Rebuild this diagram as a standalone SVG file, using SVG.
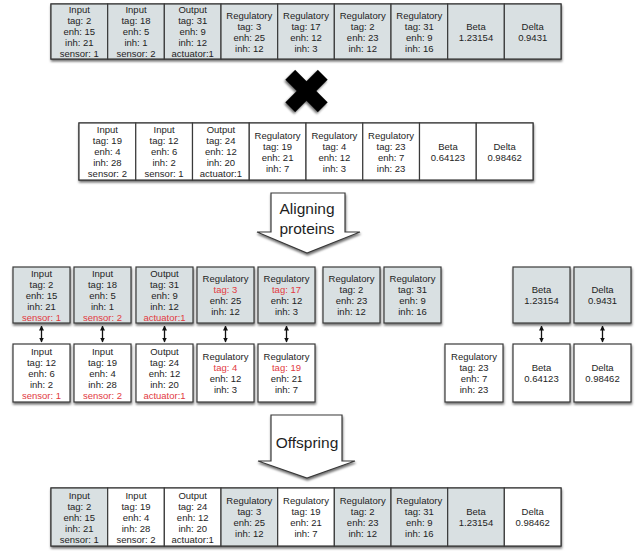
<svg xmlns="http://www.w3.org/2000/svg" width="640" height="552" viewBox="0 0 640 552">
<defs>
<filter id="sh" x="-10%" y="-10%" width="120%" height="140%">
<feDropShadow dx="0.5" dy="2" stdDeviation="1.2" flood-color="#000" flood-opacity="0.55"/>
</filter>
<marker id="ah" viewBox="0 0 10 10" refX="9" refY="5" markerWidth="5" markerHeight="5" orient="auto-start-reverse" markerUnits="userSpaceOnUse">
<path d="M0,0 L10,5 L0,10 z" fill="#111"/>
</marker>
</defs>
<style>
.g{fill:#d9e0e2;stroke:#3a3a3a;stroke-width:1.2}
.w{fill:#ffffff;stroke:#3a3a3a;stroke-width:1.2}
.bg{fill:#ffffff;stroke:#3a3a3a;stroke-width:1.2;filter:url(#sh)}
text{font-family:"Liberation Sans",Arial,Helvetica,sans-serif;font-size:9.5px;fill:#1e1e1e;text-anchor:middle;dominant-baseline:central}
.r{fill:#e23a3f}
.big{font-size:15.5px}
.conn line{stroke:#111;stroke-width:1.3;marker-start:url(#ah);marker-end:url(#ah)}
</style>
<rect width="640" height="552" fill="#ffffff"/>

<!-- Parent 1 -->
<g id="parent1">
<rect class="bg" x="51" y="4" width="510" height="55"/>
<g id="p1c1"><rect class="g" x="51" y="4" width="56.67" height="55"/><text x="79.3" y="9.5">Input</text><text x="79.3" y="20.5">tag: 2</text><text x="79.3" y="31.5">enh: 15</text><text x="79.3" y="42.5">inh: 21</text><text x="79.3" y="53.5">sensor: 1</text></g>
<g id="p1c2"><rect class="g" x="107.67" y="4" width="56.67" height="55"/><text x="136" y="9.5">Input</text><text x="136" y="20.5">tag: 18</text><text x="136" y="31.5">enh: 5</text><text x="136" y="42.5">inh: 1</text><text x="136" y="53.5">sensor: 2</text></g>
<g id="p1c3"><rect class="g" x="164.33" y="4" width="56.67" height="55"/><text x="192.7" y="9.5">Output</text><text x="192.7" y="20.5">tag: 31</text><text x="192.7" y="31.5">enh: 9</text><text x="192.7" y="42.5">inh: 12</text><text x="192.7" y="53.5">actuator:1</text></g>
<g id="p1c4"><rect class="g" x="221" y="4" width="56.67" height="55"/><text x="249.3" y="15">Regulatory</text><text x="249.3" y="26">tag: 3</text><text x="249.3" y="37">enh: 25</text><text x="249.3" y="48">inh: 12</text></g>
<g id="p1c5"><rect class="g" x="277.67" y="4" width="56.67" height="55"/><text x="306" y="15">Regulatory</text><text x="306" y="26">tag: 17</text><text x="306" y="37">enh: 12</text><text x="306" y="48">inh: 3</text></g>
<g id="p1c6"><rect class="g" x="334.33" y="4" width="56.67" height="55"/><text x="362.7" y="15">Regulatory</text><text x="362.7" y="26">tag: 2</text><text x="362.7" y="37">enh: 23</text><text x="362.7" y="48">inh: 12</text></g>
<g id="p1c7"><rect class="g" x="391" y="4" width="56.67" height="55"/><text x="419.3" y="15">Regulatory</text><text x="419.3" y="26">tag: 31</text><text x="419.3" y="37">enh: 9</text><text x="419.3" y="48">inh: 16</text></g>
<g id="p1c8"><rect class="g" x="447.67" y="4" width="56.67" height="55"/><text x="476" y="26">Beta</text><text x="476" y="37">1.23154</text></g>
<g id="p1c9"><rect class="g" x="504.33" y="4" width="56.67" height="55"/><text x="532.7" y="26">Delta</text><text x="532.7" y="37">0.9431</text></g>
</g>

<!-- Cross -->
<g id="cross">
<polygon transform="translate(306.5,91) rotate(45)" points="-7,-23 7,-23 7,-7 23,-7 23,7 7,7 7,23 -7,23 -7,7 -23,7 -23,-7 -7,-7" fill="#000" style="filter:url(#sh)"/>
</g>

<!-- Parent 2 -->
<g id="parent2">
<rect class="bg" x="79" y="123" width="454" height="57"/>
<g id="p2c1"><rect class="w" x="79" y="123" width="56.75" height="57"/><text x="107.4" y="129.5">Input</text><text x="107.4" y="140.5">tag: 19</text><text x="107.4" y="151.5">enh: 4</text><text x="107.4" y="162.5">inh: 28</text><text x="107.4" y="173.5">sensor: 2</text></g>
<g id="p2c2"><rect class="w" x="135.75" y="123" width="56.75" height="57"/><text x="164.1" y="129.5">Input</text><text x="164.1" y="140.5">tag: 12</text><text x="164.1" y="151.5">enh: 6</text><text x="164.1" y="162.5">inh: 2</text><text x="164.1" y="173.5">sensor: 1</text></g>
<g id="p2c3"><rect class="w" x="192.5" y="123" width="56.75" height="57"/><text x="220.9" y="129.5">Output</text><text x="220.9" y="140.5">tag: 24</text><text x="220.9" y="151.5">enh: 12</text><text x="220.9" y="162.5">inh: 20</text><text x="220.9" y="173.5">actuator:1</text></g>
<g id="p2c4"><rect class="w" x="249.25" y="123" width="56.75" height="57"/><text x="277.6" y="135">Regulatory</text><text x="277.6" y="146">tag: 19</text><text x="277.6" y="157">enh: 21</text><text x="277.6" y="168">inh: 7</text></g>
<g id="p2c5"><rect class="w" x="306" y="123" width="56.75" height="57"/><text x="334.4" y="135">Regulatory</text><text x="334.4" y="146">tag: 4</text><text x="334.4" y="157">enh: 12</text><text x="334.4" y="168">inh: 3</text></g>
<g id="p2c6"><rect class="w" x="362.75" y="123" width="56.75" height="57"/><text x="391.1" y="135">Regulatory</text><text x="391.1" y="146">tag: 23</text><text x="391.1" y="157">enh: 7</text><text x="391.1" y="168">inh: 23</text></g>
<g id="p2c7"><rect class="w" x="419.5" y="123" width="56.75" height="57"/><text x="447.9" y="146">Beta</text><text x="447.9" y="157">0.64123</text></g>
<g id="p2c8"><rect class="w" x="476.25" y="123" width="56.75" height="57"/><text x="504.6" y="146">Delta</text><text x="504.6" y="157">0.98462</text></g>
</g>

<!-- Aligning proteins arrow -->
<g id="align">
<polygon points="271,193 345,193 345,232 360,232 307,253 257,232 271,232" fill="#fff" stroke="#3a3a3a" stroke-width="1.2" style="filter:url(#sh)"/>
<text class="big" x="307" y="208">Aligning</text>
<text class="big" x="307" y="228">proteins</text>
</g>

<!-- Aligned parent 1 -->
<g id="a1">
<g id="a1c1"><rect class="g" x="13" y="267" width="57" height="56" style="filter:url(#sh)"/><text x="41.5" y="273">Input</text><text x="41.5" y="284">tag: 2</text><text x="41.5" y="295">enh: 15</text><text x="41.5" y="306">inh: 21</text><text class="r" x="41.5" y="317">sensor: 1</text></g>
<g id="a1c2"><rect class="g" x="74" y="267" width="57" height="56" style="filter:url(#sh)"/><text x="102.5" y="273">Input</text><text x="102.5" y="284">tag: 18</text><text x="102.5" y="295">enh: 5</text><text x="102.5" y="306">inh: 1</text><text class="r" x="102.5" y="317">sensor: 2</text></g>
<g id="a1c3"><rect class="g" x="136" y="267" width="57" height="56" style="filter:url(#sh)"/><text x="164.5" y="273">Output</text><text x="164.5" y="284">tag: 31</text><text x="164.5" y="295">enh: 9</text><text x="164.5" y="306">inh: 12</text><text class="r" x="164.5" y="317">actuator:1</text></g>
<g id="a1c4"><rect class="g" x="197" y="267" width="57" height="56" style="filter:url(#sh)"/><text x="225.5" y="278.5">Regulatory</text><text class="r" x="225.5" y="289.5">tag: 3</text><text x="225.5" y="300.5">enh: 25</text><text x="225.5" y="311.5">inh: 12</text></g>
<g id="a1c5"><rect class="g" x="258" y="267" width="57" height="56" style="filter:url(#sh)"/><text x="286.5" y="278.5">Regulatory</text><text class="r" x="286.5" y="289.5">tag: 17</text><text x="286.5" y="300.5">enh: 12</text><text x="286.5" y="311.5">inh: 3</text></g>
<g id="a1c6"><rect class="g" x="323" y="267" width="57" height="56" style="filter:url(#sh)"/><text x="351.5" y="278.5">Regulatory</text><text x="351.5" y="289.5">tag: 2</text><text x="351.5" y="300.5">enh: 23</text><text x="351.5" y="311.5">inh: 12</text></g>
<g id="a1c7"><rect class="g" x="384" y="267" width="57" height="56" style="filter:url(#sh)"/><text x="412.5" y="278.5">Regulatory</text><text x="412.5" y="289.5">tag: 31</text><text x="412.5" y="300.5">enh: 9</text><text x="412.5" y="311.5">inh: 16</text></g>
<g id="a1c8"><rect class="g" x="513" y="267" width="57" height="56" style="filter:url(#sh)"/><text x="541.5" y="289.5">Beta</text><text x="541.5" y="300.5">1.23154</text></g>
<g id="a1c9"><rect class="g" x="574" y="267" width="57" height="56" style="filter:url(#sh)"/><text x="602.5" y="289.5">Delta</text><text x="602.5" y="300.5">0.9431</text></g>
</g>

<!-- Aligned parent 2 -->
<g id="a2">
<g id="a2c1"><rect class="w" x="13" y="344" width="57" height="58" style="filter:url(#sh)"/><text x="41.5" y="351">Input</text><text x="41.5" y="362">tag: 12</text><text x="41.5" y="373">enh: 6</text><text x="41.5" y="384">inh: 2</text><text class="r" x="41.5" y="395">sensor: 1</text></g>
<g id="a2c2"><rect class="w" x="74" y="344" width="57" height="58" style="filter:url(#sh)"/><text x="102.5" y="351">Input</text><text x="102.5" y="362">tag: 19</text><text x="102.5" y="373">enh: 4</text><text x="102.5" y="384">inh: 28</text><text class="r" x="102.5" y="395">sensor: 2</text></g>
<g id="a2c3"><rect class="w" x="136" y="344" width="57" height="58" style="filter:url(#sh)"/><text x="164.5" y="351">Output</text><text x="164.5" y="362">tag: 24</text><text x="164.5" y="373">enh: 12</text><text x="164.5" y="384">inh: 20</text><text class="r" x="164.5" y="395">actuator:1</text></g>
<g id="a2c4"><rect class="w" x="197" y="344" width="57" height="58" style="filter:url(#sh)"/><text x="225.5" y="356.5">Regulatory</text><text class="r" x="225.5" y="367.5">tag: 4</text><text x="225.5" y="378.5">enh: 12</text><text x="225.5" y="389.5">inh: 3</text></g>
<g id="a2c5"><rect class="w" x="258" y="344" width="57" height="58" style="filter:url(#sh)"/><text x="286.5" y="356.5">Regulatory</text><text class="r" x="286.5" y="367.5">tag: 19</text><text x="286.5" y="378.5">enh: 21</text><text x="286.5" y="389.5">inh: 7</text></g>
<g id="a2c6"><rect class="w" x="445" y="344" width="58" height="58" style="filter:url(#sh)"/><text x="474" y="356.5">Regulatory</text><text x="474" y="367.5">tag: 23</text><text x="474" y="378.5">enh: 7</text><text x="474" y="389.5">inh: 23</text></g>
<g id="a2c7"><rect class="w" x="513" y="344" width="57" height="58" style="filter:url(#sh)"/><text x="541.5" y="367.5">Beta</text><text x="541.5" y="378.5">0.64123</text></g>
<g id="a2c8"><rect class="w" x="574" y="344" width="57" height="58" style="filter:url(#sh)"/><text x="602.5" y="367.5">Delta</text><text x="602.5" y="378.5">0.98462</text></g>
</g>

<!-- Connectors -->
<g id="connectors" class="conn">
<line x1="41.5" y1="326" x2="41.5" y2="342"/>
<line x1="102.5" y1="326" x2="102.5" y2="342"/>
<line x1="164.5" y1="326" x2="164.5" y2="342"/>
<line x1="225.5" y1="326" x2="225.5" y2="342"/>
<line x1="286.5" y1="326" x2="286.5" y2="342"/>
<line x1="541.5" y1="326" x2="541.5" y2="342"/>
<line x1="602.5" y1="326" x2="602.5" y2="342"/>
</g>

<!-- Offspring arrow -->
<g id="offspring-arrow">
<polygon points="271,415 342,415 342,461 355,461 307,478 258,461 271,461" fill="#fff" stroke="#3a3a3a" stroke-width="1.2" style="filter:url(#sh)"/>
<text class="big" x="307" y="442">Offspring</text>
</g>

<!-- Offspring -->
<g id="offspring">
<rect class="bg" x="51" y="488" width="510" height="58"/>
<g id="oc1"><rect class="g" x="51" y="488" width="56.67" height="58"/><text x="79.3" y="495">Input</text><text x="79.3" y="506">tag: 2</text><text x="79.3" y="517">enh: 15</text><text x="79.3" y="528">inh: 21</text><text x="79.3" y="539">sensor: 1</text></g>
<g id="oc2"><rect class="w" x="107.67" y="488" width="56.67" height="58"/><text x="136" y="495">Input</text><text x="136" y="506">tag: 19</text><text x="136" y="517">enh: 4</text><text x="136" y="528">inh: 28</text><text x="136" y="539">sensor: 2</text></g>
<g id="oc3"><rect class="w" x="164.33" y="488" width="56.67" height="58"/><text x="192.7" y="495">Output</text><text x="192.7" y="506">tag: 24</text><text x="192.7" y="517">enh: 12</text><text x="192.7" y="528">inh: 20</text><text x="192.7" y="539">actuator:1</text></g>
<g id="oc4"><rect class="g" x="221" y="488" width="56.67" height="58"/><text x="249.3" y="500.5">Regulatory</text><text x="249.3" y="511.5">tag: 3</text><text x="249.3" y="522.5">enh: 25</text><text x="249.3" y="533.5">inh: 12</text></g>
<g id="oc5"><rect class="w" x="277.67" y="488" width="56.67" height="58"/><text x="306" y="500.5">Regulatory</text><text x="306" y="511.5">tag: 19</text><text x="306" y="522.5">enh: 21</text><text x="306" y="533.5">inh: 7</text></g>
<g id="oc6"><rect class="g" x="334.33" y="488" width="56.67" height="58"/><text x="362.7" y="500.5">Regulatory</text><text x="362.7" y="511.5">tag: 2</text><text x="362.7" y="522.5">enh: 23</text><text x="362.7" y="533.5">inh: 12</text></g>
<g id="oc7"><rect class="g" x="391" y="488" width="56.67" height="58"/><text x="419.3" y="500.5">Regulatory</text><text x="419.3" y="511.5">tag: 31</text><text x="419.3" y="522.5">enh: 9</text><text x="419.3" y="533.5">inh: 16</text></g>
<g id="oc8"><rect class="g" x="447.67" y="488" width="56.67" height="58"/><text x="476" y="511.5">Beta</text><text x="476" y="522.5">1.23154</text></g>
<g id="oc9"><rect class="w" x="504.33" y="488" width="56.67" height="58"/><text x="532.7" y="511.5">Delta</text><text x="532.7" y="522.5">0.98462</text></g>
</g>
</svg>
